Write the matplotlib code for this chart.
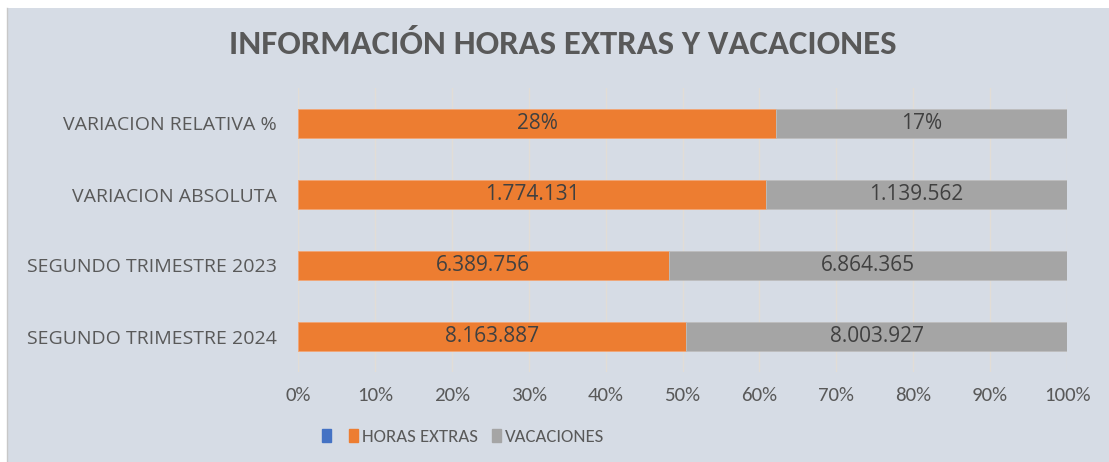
import matplotlib
matplotlib.use("Agg")
import matplotlib.pyplot as plt
from matplotlib.patches import Rectangle
from matplotlib.lines import Line2D
import numpy as np

categories = ["SEGUNDO TRIMESTRE 2024", "SEGUNDO TRIMESTRE 2023", "VARIACION ABSOLUTA", "VARIACION RELATIVA %"]
horas_extras = [8163887, 6389756, 1774131, 28]
vacaciones = [8003927, 6864365, 1139562, 17]
horas_labels = ["8.163.887", "6.389.756", "1.774.131", "28%"]
vac_labels = ["8.003.927", "6.864.365", "1.139.562", "17%"]
xticks = [0, 10, 20, 30, 40, 50, 60, 70, 80, 90, 100]
title = "INFORMACIÓN HORAS EXTRAS Y VACACIONES"

bg = "#D6DCE5"
orange = "#ED7D31"
gray = "#A5A5A5"
blue = "#4472C4"
txt = "#595959"

narrow = ["Carlito", "Lato", "DejaVu Sans"]
wide = ["Open Sans", "DejaVu Sans"]

fig = plt.figure(figsize=(11.09, 4.62), dpi=100)
fig.patch.set_facecolor("white")
fig.patches.append(Rectangle((7/1109, 0), 1 - 7/1109, (462 - 8)/462, transform=fig.transFigure,
                             facecolor=bg, edgecolor="none", zorder=-5))
fig.lines.append(Line2D([7/1109, 7/1109], [0, (462 - 8)/462], transform=fig.transFigure,
                        color="#C8C8C8", lw=1.0, zorder=-4))

ax = fig.add_axes([298/1109, 1 - 372/462, (1067 - 298)/1109, (372 - 88)/462])
ax.set_facecolor("none")

h = np.array(horas_extras, dtype=float)
v = np.array(vacaciones, dtype=float)
tot = h + v
hp = h / tot * 100
vp = v / tot * 100
y = np.arange(len(categories))

ax.barh(y, hp, height=0.41, color=orange, edgecolor="#F2A575", linewidth=0.6, zorder=2)
ax.barh(y, vp, left=hp, height=0.41, color=gray, edgecolor="#BDBDBD", linewidth=0.6, zorder=2)

for i in range(len(categories)):
    ax.text(hp[i] / 2, y[i], horas_labels[i], ha="center", va="center", fontsize=15,
            color="#404040", family=wide, zorder=3)
    ax.text(hp[i] + vp[i] / 2, y[i], vac_labels[i], ha="center", va="center", fontsize=15,
            color="#404040", family=wide, zorder=3)

ax.set_xlim(0, 100)
ax.set_ylim(-0.5, 3.5)
ax.set_xticks(xticks)
ax.set_xticklabels([f"{t}%" for t in xticks], family=narrow, fontsize=15, color=txt)
ax.tick_params(axis="both", length=0)
ax.set_yticks(y)
ax.set_yticklabels(categories, family=wide, fontsize=14, color=txt)
ax.tick_params(axis="x", pad=11)
ax.tick_params(axis="y", pad=15)
ax.grid(axis="x", color="#E2DDD6", linewidth=1.0, zorder=1)
ax.set_axisbelow(True)
for s in ax.spines.values():
    s.set_visible(False)

fig.text(563/1109, 1 - 45/462, title, ha="center", va="center", fontsize=25, fontweight="bold",
         color=txt, family=narrow)

handles = [Rectangle((0, 0), 1, 1, color=blue),
           Rectangle((0, 0), 1, 1, color=orange),
           Rectangle((0, 0), 1, 1, color=gray)]
leg = fig.legend(handles, ["", "HORAS EXTRAS", "VACACIONES"], loc="center",
                 bbox_to_anchor=(463/1109, 1 - 437/462), ncol=3, frameon=False,
                 prop={"family": narrow, "size": 13.5}, handlelength=0.45, handleheight=0.7,
                 handletextpad=0.2, columnspacing=0.8, labelcolor=txt)

fig.savefig("out.png", dpi=100, facecolor=fig.get_facecolor())
